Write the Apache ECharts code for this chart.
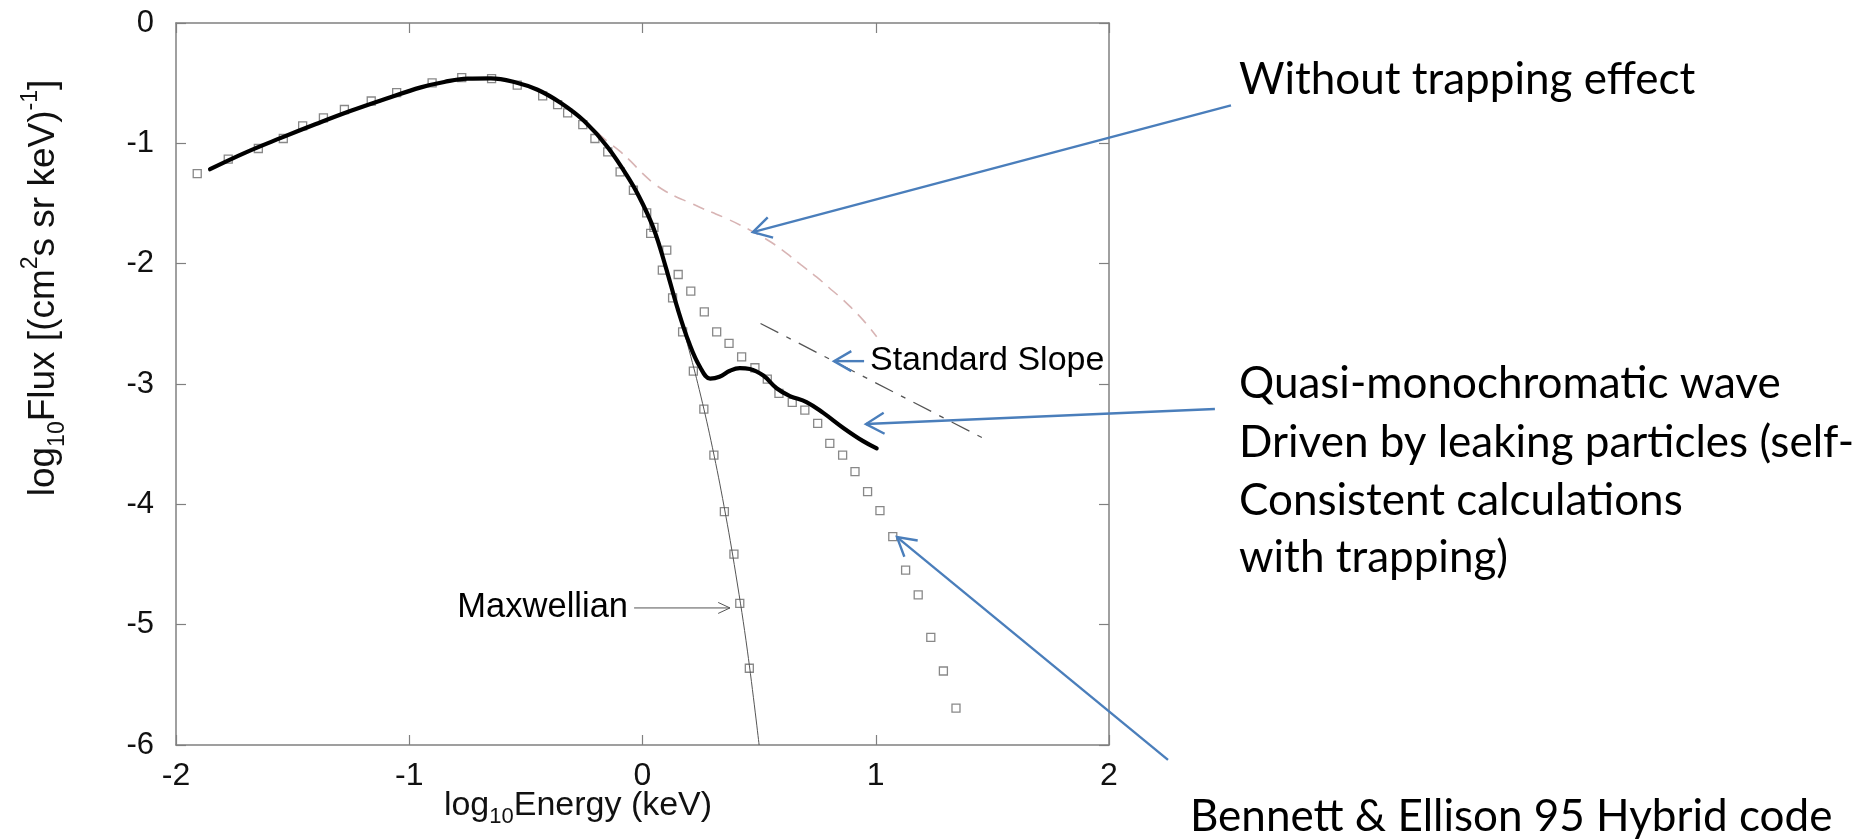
<!DOCTYPE html>
<html><head><meta charset="utf-8">
<script src="https://cdn.jsdelivr.net/npm/echarts@6/dist/echarts.min.js"></script>
<style>html,body{margin:0;padding:0;background:#fff}#c{width:1863px;height:839px}</style>
</head><body><div id="c"></div>
<script>
// ---- data (log10 E [keV], log10 Flux) ----
const xTicks = [-2, -1, 0, 1, 2];
const yTicks = [0, -1, -2, -3, -4, -5, -6];

const lowEnergySquares = [[-1.909,-1.251],[-1.776,-1.132],[-1.647,-1.043],[-1.540,-0.960],[-1.457,-0.855],[-1.368,-0.789],[-1.278,-0.719],[-1.163,-0.648],[-1.054,-0.578],[-0.902,-0.498],[-0.775,-0.454],[-0.647,-0.462],[-0.537,-0.517],[-0.428,-0.606],[-0.364,-0.678],[-0.321,-0.747],[-0.256,-0.844],[-0.204,-0.960],[-0.149,-1.071],[-0.096,-1.237],[-0.039,-1.390]];
const maxwellSquares = [[0.018,-1.578],[0.035,-1.749],[0.085,-2.054],[0.129,-2.284],[0.172,-2.566],[0.218,-2.893],[0.263,-3.209],[0.306,-3.591],[0.351,-4.061],[0.392,-4.413],[0.417,-4.823],[0.458,-5.362]];
const hybridSquares = [[0.049,-1.699],[0.104,-1.888],[0.153,-2.090],[0.207,-2.228],[0.265,-2.400],[0.318,-2.566],[0.371,-2.663],[0.425,-2.774],[0.482,-2.865],[0.535,-2.959],[0.585,-3.078],[0.642,-3.153],[0.696,-3.217],[0.751,-3.327],[0.803,-3.493],[0.858,-3.591],[0.911,-3.729],[0.965,-3.895],[1.018,-4.053],[1.073,-4.269],[1.128,-4.546],[1.182,-4.753],[1.236,-5.105],[1.290,-5.385],[1.344,-5.694]];

const selfConsistent = [[-1.854,-1.215],[-1.7,-1.075],[-1.55,-0.955],[-1.4,-0.84],[-1.25,-0.73],[-1.1,-0.63],[-0.95,-0.535],[-0.85,-0.49],[-0.75,-0.462],[-0.65,-0.46],[-0.55,-0.49],[-0.45,-0.555],[-0.35,-0.665],[-0.25,-0.815],[-0.15,-1.03],[-0.05,-1.32],[0.0,-1.50],[0.05,-1.72],[0.1,-2.03],[0.15,-2.37],[0.2,-2.66],[0.246,-2.857],[0.29,-2.955],[0.33,-2.94],[0.375,-2.89],[0.417,-2.868],[0.46,-2.875],[0.518,-2.93],[0.575,-3.035],[0.632,-3.10],[0.703,-3.15],[0.775,-3.24],[0.861,-3.365],[0.946,-3.475],[1.004,-3.535]];
const withoutTrapping = [[-1.854,-1.215],[-1.7,-1.075],[-1.55,-0.955],[-1.4,-0.84],[-1.25,-0.73],[-1.1,-0.63],[-0.95,-0.535],[-0.85,-0.49],[-0.75,-0.462],[-0.65,-0.46],[-0.55,-0.49],[-0.45,-0.555],[-0.35,-0.665],[-0.25,-0.815],[-0.2,-0.90],[-0.15,-0.985],[-0.1,-1.06],[-0.05,-1.15],[0.0,-1.25],[0.05,-1.335],[0.1,-1.40],[0.15,-1.45],[0.2,-1.49],[0.25,-1.535],[0.3,-1.575],[0.36,-1.625],[0.42,-1.68],[0.475,-1.736],[0.55,-1.82],[0.618,-1.915],[0.68,-2.01],[0.746,-2.11],[0.8,-2.20],[0.861,-2.303],[0.946,-2.469],[1.004,-2.608]];
const maxwellian = [[-1.854,-1.215],[-1.7,-1.075],[-1.55,-0.955],[-1.4,-0.84],[-1.25,-0.73],[-1.1,-0.63],[-0.95,-0.535],[-0.85,-0.49],[-0.75,-0.462],[-0.65,-0.46],[-0.55,-0.49],[-0.45,-0.555],[-0.35,-0.665],[-0.25,-0.815],[-0.15,-1.03],[-0.05,-1.32],[0.0,-1.50],[0.05,-1.72],[0.1,-2.03],[0.15,-2.37],[0.2,-2.72],[0.25,-3.10],[0.3,-3.53],[0.35,-4.02],[0.4,-4.58],[0.45,-5.22],[0.5,-6.0]];
const standardSlope = [[0.506,-2.497],[1.476,-3.466]];

// annotation arrows in data coordinates: [tail, tip]
const arrowWithout = [[2.523,-0.684],[0.473,-1.738]];
const arrowQuasi = [[2.454,-3.208],[0.958,-3.333]];
const arrowHybrid = [[2.253,-6.124],[1.091,-4.272]];
const arrowSlope = [[0.950,-2.810],[0.821,-2.810]];
const arrowMaxwell = [[-0.036,-4.861],[0.375,-4.861]];

const chart = echarts.init(document.getElementById('c'), null, {renderer:'canvas'});
const AX = '#808080';
const FF = 'Liberation Sans, Arial, sans-serif';
const sq = (name, data) => ({
  name, type:'scatter', data, symbol:'rect', symbolSize:8, z:2,
  itemStyle:{color:'rgba(255,255,255,0)', borderColor:'#6a6a6a', borderWidth:1.3},
  emphasis:{disabled:true}, silent:true
});
const axBase = (pos, isX) => ({
  type:'value', min: isX ? xTicks[0] : yTicks[yTicks.length-1], max: isX ? xTicks[xTicks.length-1] : yTicks[0],
  interval:1, position:pos,
  axisLine:{show:true, onZero:false, lineStyle:{color:AX, width:1.5}},
  axisTick:{show:true, inside:true, length:10, lineStyle:{color:AX, width:1.2}},
  splitLine:{show:false}
});
chart.setOption({
  animation:false,
  textStyle:{fontFamily:FF},
  grid:{left:176, top:23, width:933, height:722, containLabel:false},
  xAxis:[
    Object.assign(axBase('bottom', true), {axisLabel:{show:true, fontSize:32, color:'#111', margin:15, fontFamily:FF, showMinLabel:true, showMaxLabel:true}}),
    Object.assign(axBase('top', true), {axisLabel:{show:false}})
  ],
  yAxis:[
    Object.assign(axBase('left', false), {axisLabel:{show:true, fontSize:31, color:'#111', margin:22, fontFamily:FF, showMinLabel:true, showMaxLabel:true}}),
    Object.assign(axBase('right', false), {axisLabel:{show:false}})
  ],
  series:[
    sq('Low energy', lowEnergySquares),
    sq('Maxwellian points', maxwellSquares),
    sq('Hybrid code', hybridSquares),
    {name:'Maxwellian', type:'line', data:maxwellian, showSymbol:false, smooth:0.4, z:3,
      lineStyle:{color:'#555', width:1}, silent:true},
    {name:'Without trapping', type:'line', data:withoutTrapping, showSymbol:false, smooth:0.4, z:3,
      lineStyle:{color:'#d8b4b4', width:1.6, type:[12,8]}, silent:true},
    {name:'Standard slope', type:'line', data:standardSlope, showSymbol:false, z:3,
      lineStyle:{color:'#555', width:1.3, type:[20,9,5,9]}, silent:true},
    {name:'Self-consistent', type:'line', data:selfConsistent, showSymbol:false, smooth:0.4, z:4,
      lineStyle:{color:'#000', width:4.2, cap:'round', join:'round'}, silent:true}
  ]
});

function px(p){ return chart.convertToPixel({gridIndex:0}, p); }
function arrow(pair, color, width, headLen, headDeg){
  const a = px(pair[0]), b = px(pair[1]);
  const dx = b[0]-a[0], dy = b[1]-a[1], L = Math.hypot(dx,dy);
  const ux = dx/L, uy = dy/L, t = headDeg*Math.PI/180;
  const rot = (s) => [b[0] - headLen*(ux*Math.cos(s) - uy*Math.sin(s)), b[1] - headLen*(ux*Math.sin(s) + uy*Math.cos(s))];
  return [
    {type:'line', shape:{x1:a[0], y1:a[1], x2:b[0], y2:b[1]}, style:{stroke:color, lineWidth:width}, z:10},
    {type:'polyline', shape:{points:[rot(t), b, rot(-t)]}, style:{stroke:color, lineWidth:width, fill:null}, z:10}
  ];
}
const BLUE = '#4a7ebb';
const RF = 'Lato, "Open Sans", sans-serif';
const txt = (text, x, y, size, family, align) => ({type:'text', x, y, z:10,
  style:{text, fontSize:size, fontFamily:family, fill:'#000', align:align||'left', verticalAlign:'middle'}});

const g = [].concat(
  arrow(arrowWithout, BLUE, 2.4, 21, 30),
  arrow(arrowQuasi, BLUE, 2.4, 21, 30),
  arrow(arrowHybrid, BLUE, 2.4, 21, 30),
  arrow(arrowSlope, BLUE, 2.4, 20, 30),
  arrow(arrowMaxwell, '#555', 1, 13, 25),
  [
    txt('Standard Slope', 870, 361, 34, FF),
    txt('Maxwellian', 628, 607, 34.5, FF, 'right'),
    txt('Without trapping effect', 1239, 80, 44, RF),
    txt('Quasi-monochromatic wave', 1239, 384, 44, RF),
    txt('Driven by leaking particles (self-', 1239, 443, 44, RF),
    txt('Consistent calculations', 1239, 501, 44, RF),
    txt('with trapping)', 1239, 558, 44, RF),
    txt('Bennett & Ellison 95 Hybrid code', 1190, 817, 44, RF),
    {type:'text', x:578, y:806, z:10, style:{
      text:'{n|log}{sub|10}{n|Energy (keV)}', align:'center', verticalAlign:'middle', fill:'#111',
      rich:{n:{fontSize:34, fontFamily:FF, lineHeight:44, fill:'#111'}, sub:{fontSize:22, fontFamily:FF, lineHeight:22, verticalAlign:'bottom', fill:'#111'}}}},
    {type:'text', x:44, y:288, rotation:Math.PI/2, z:10, style:{
      text:'{n|log}{sub|10}{n|Flux [(cm}{sup|2}{n|s sr keV)}{sup|-1}{n|]}', align:'center', verticalAlign:'middle', fill:'#111',
      rich:{n:{fontSize:37, fontFamily:FF, lineHeight:50, fill:'#111'},
            sub:{fontSize:23, fontFamily:FF, lineHeight:24, verticalAlign:'bottom', fill:'#111'},
            sup:{fontSize:23, fontFamily:FF, lineHeight:24, verticalAlign:'top', fill:'#111'}}}}
  ]
);
chart.setOption({graphic:g});
</script></body></html>
